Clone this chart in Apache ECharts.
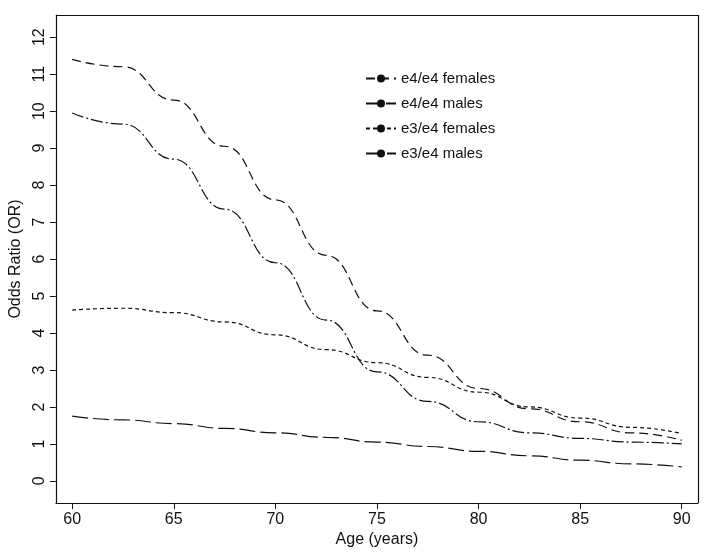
<!DOCTYPE html>
<html><head><meta charset="utf-8">
<script src="https://cdn.jsdelivr.net/npm/echarts@6/dist/echarts.min.js"></script>
<style>body{margin:0;background:#fff}#c{width:725px;height:553px}</style>
</head><body><div id="c"></div>
<script>
const ages = [60, 62.5, 65, 67.5, 70, 72.5, 75, 77.5, 80, 82.5, 85, 87.5, 90];
const e4e4Females = [11.4, 11.2, 10.3, 9.05, 7.6, 6.1, 4.6, 3.4, 2.5, 1.95, 1.6, 1.3, 1.1];
const e4e4Males = [9.95, 9.65, 8.7, 7.35, 5.9, 4.35, 2.95, 2.15, 1.6, 1.3, 1.15, 1.05, 1.0];
const e3e4Females = [4.62, 4.67, 4.55, 4.3, 3.95, 3.55, 3.2, 2.8, 2.4, 2.0, 1.7, 1.45, 1.28];
const e3e4Males = [1.75, 1.65, 1.55, 1.42, 1.3, 1.18, 1.05, 0.93, 0.8, 0.68, 0.56, 0.46, 0.38];
const yTicks = [0,1,2,3,4,5,6,7,8,9,10,11,12];

const pair = (ys) => ages.map((a, i) => [a, ys[i]]);
const mk = (name, ys, dash) => ({
  name, type: 'line', data: pair(ys), smooth: true, smoothMonotone: 'x', symbol: 'none',
  lineStyle: { color: '#111', width: 1.2, type: dash },
  itemStyle: { color: '#111' }
});

const chart = echarts.init(document.getElementById('c'));
chart.setOption({
  animation: false,
  textStyle: { fontFamily: 'Liberation Sans, Arial', color: '#111' },
  grid: { left: 47, right: 27, top: 15, bottom: 43 },
  legend: {
    orient: 'vertical', left: 360, top: 66, itemGap: 10, itemWidth: 30, itemHeight: 10,
    textStyle: { fontSize: 15, color: '#111' },
    data: ['e4/e4 females', 'e4/e4 males', 'e3/e4 females', 'e3/e4 males']
  },
  xAxis: {
    type: 'value', min: 59.2, max: 90.8, interval: 5,
    name: 'Age (years)', nameLocation: 'middle', nameGap: 24,
    nameTextStyle: { fontSize: 16 },
    axisLine: { onZero: false, lineStyle: { color: '#111', width: 1.2 } },
    axisTick: { show: true, length: 6, customValues: [60,65,70,75,80,85,90], lineStyle: { color: '#111' } },
    axisLabel: { fontSize: 16, color: '#111', customValues: [60,65,70,75,80,85,90] },
    splitLine: { show: false }
  },
  yAxis: {
    type: 'value', min: -0.6, max: 12.6,
    name: 'Odds Ratio (OR)', nameLocation: 'middle', nameGap: 30,
    nameTextStyle: { fontSize: 16 },
    axisLine: { onZero: false, lineStyle: { color: '#111', width: 1.2 } },
    axisTick: { show: true, length: 6, customValues: yTicks, lineStyle: { color: '#111' } },
    axisLabel: { fontSize: 16, color: '#111', rotate: 90, customValues: yTicks },
    splitLine: { show: false }
  },
  series: [
    mk('e4/e4 females', e4e4Females, [9, 5]),
    mk('e4/e4 males', e4e4Males, [12, 3, 2, 3]),
    mk('e3/e4 females', e3e4Females, [4, 3]),
    mk('e3/e4 males', e3e4Males, [16, 5]),
    { type: 'line', data: [], markLine: { silent: true, symbol: 'none', label: { show: false },
      lineStyle: { color: '#111', type: 'solid', width: 1.2 },
      data: [[{ coord: [59.2, 12.6] }, { coord: [90.8, 12.6] }], [{ coord: [90.8, -0.6] }, { coord: [90.8, 12.6] }]] } }
  ]
});
</script></body></html>
